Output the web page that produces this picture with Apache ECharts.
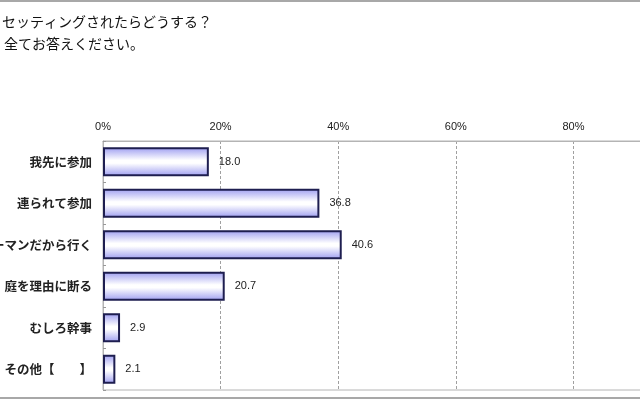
<!DOCTYPE html>
<html><head><meta charset="utf-8">
<script src="https://cdn.jsdelivr.net/npm/echarts@6/dist/echarts.min.js"></script>
<style>html,body{margin:0;padding:0;background:#fff}#c{width:640px;height:400px}</style>
</head><body><div id="c"></div>
<script>
const categories = ['我先に参加','連られて参加','ーマンだから行く','庭を理由に断る','むしろ幹事','その他【　　】'];
const values = [18.0, 36.8, 40.6, 20.7, 2.9, 2.1];
const titleLines = ['セッティングされたらどうする？','全てお答えください。'];
const axisTicks = {min:0, max:100, interval:20};

const jp = '"Noto Sans CJK JP", "Liberation Sans", sans-serif';
const num = '"Liberation Sans", Arial, sans-serif';
const chart = echarts.init(document.getElementById('c'));
chart.setOption({
  backgroundColor:'#fff',
  animation:false,
  grid:{left:103, top:141, width:588, height:249, show:true, borderColor:'#b4b4b4', borderWidth:1,
    containLabel:false, outerBoundsMode:'none'},
  xAxis:{type:'value', position:'top', min:axisTicks.min, max:axisTicks.max, interval:axisTicks.interval,
    axisLabel:{formatter:'{value}%', fontFamily:num, fontSize:11, color:'#222', margin:9},
    axisLine:{show:true, lineStyle:{color:'#b4b4b4'}}, axisTick:{show:false},
    splitLine:{show:true, lineStyle:{type:[3,2], color:'#a0a0a0'}}},
  yAxis:{type:'category', inverse:true, data:categories,
    axisLine:{show:true, lineStyle:{color:'#b4b4b4'}},
    axisTick:{show:true, inside:true, length:3, lineStyle:{color:'#999'}},
    axisLabel:{fontFamily:jp, fontSize:12.5, fontWeight:'bold', color:'#222', margin:11}},
  series:[{type:'bar', data:values, barWidth:'70%',
    itemStyle:{borderColor:'#1e1e50', borderWidth:2,
      color:new echarts.graphic.LinearGradient(0,0,0,1,[
        {offset:0,color:'#9c9cf0'},{offset:0.45,color:'#ffffff'},{offset:0.55,color:'#ffffff'},{offset:1,color:'#9c9cf0'}])},
    label:{show:true, position:'right', distance:10, fontFamily:num, fontSize:11, color:'#222',
      formatter:p=>p.value.toFixed(1)}}],
  graphic:[
    {type:'line', shape:{x1:0,y1:1,x2:640,y2:1}, style:{stroke:'#a8a8a8', lineWidth:2}},
    {type:'line', shape:{x1:0,y1:398,x2:640,y2:398}, style:{stroke:'#a8a8a8', lineWidth:2}},
    {type:'text', left:2, top:15, style:{text:titleLines[0], font:'14px '+jp, fill:'#111'}},
    {type:'text', left:4, top:37, style:{text:titleLines[1], font:'14px '+jp, fill:'#111'}}
  ]
});
</script></body></html>
